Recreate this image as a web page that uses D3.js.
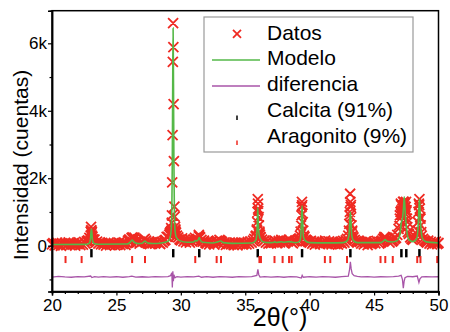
<!DOCTYPE html>
<html><head><meta charset="utf-8">
<script src="https://cdn.jsdelivr.net/npm/d3@7"></script>
<style>
html,body{margin:0;padding:0;background:#fff;}
svg{display:block;font-family:"Liberation Sans",Arial,sans-serif;}
</style></head><body>
<svg id="c" width="450" height="332"></svg>
<script>
// ---- data ----
const tth0 = 20, tthStep = 0.1;
const obsCounts = [
 40,75,10,55,90,25,60,-5,70,35,
 85,20,50,100,15,65,30,80,0,55,
 45,95,20,70,35,110,60,130,160,230,
 420,300,150,180,90,120,60,100,40,85,
 30,70,5,55,95,20,65,40,80,10,
 60,35,90,15,70,50,100,25,75,150,
 190,130,220,170,240,120,90,140,60,100,
 110,170,200,150,80,120,45,95,70,110,
 60,100,130,80,50,115,90,140,170,260,
 260,330,410,680,6600,1160,420,300,250,190,
 160,220,130,190,100,170,140,90,150,120,
 180,230,160,200,280,250,170,120,150,90,
 60,110,40,95,130,70,30,120,150,90,
 170,140,110,60,100,25,85,50,95,40,
 70,20,90,55,10,80,45,100,30,65,
 85,40,110,60,130,90,150,200,280,450,
 1100,380,250,180,130,160,90,120,60,100,
 70,130,90,150,120,80,140,100,170,130,
 110,80,150,120,180,140,100,70,120,160,
 130,180,220,420,1300,450,260,180,150,110,
 90,140,60,110,35,100,75,130,45,90,
 120,70,150,100,60,130,85,40,110,70,
 50,100,30,85,120,65,140,90,160,200,
 300,900,1200,450,250,170,130,90,150,110,
 60,100,40,90,130,20,75,110,50,85,
 120,70,140,100,60,110,150,200,230,250,
 180,130,90,150,120,160,200,230,320,500,
 900,1200,1100,1300,1150,1000,700,350,250,200,
 170,220,260,350,700,1200,800,300,200,160,
 130,90,150,60,110,40,95,70,120,50,
 80];
const obsPeakPts = [
 [22.96,210],[23.0,300],[23.03,560],[23.05,460],[23.07,375],[23.1,420],[23.14,260],[23.2,190],
 [26.18,230],[26.25,250],
 [29.15,380],[29.22,350],[29.25,520],[29.28,450],[29.31,900],[29.33,1880],[29.36,3280],[29.38,5450],
 [29.42,5890],[29.44,4200],[29.46,2510],[29.52,860],[29.55,560],[29.58,480],[29.62,380],
 [31.4,320],[31.45,270],
 [35.85,300],[35.9,480],[35.93,700],[35.95,1000],[35.97,1380],[35.99,1250],[36.02,1050],[36.04,850],
 [36.06,600],[36.1,420],[36.14,330],[36.18,260],
 [39.25,300],[39.33,600],[39.36,900],[39.38,1150],[39.42,1200],[39.44,950],[39.46,700],[39.55,300],
 [43.05,450],[43.08,650],[43.12,1000],[43.14,1540],[43.16,1300],[43.18,1150],[43.22,850],[43.25,600],
 [43.28,400],[43.33,300],
 [45.8,260],[45.86,230],
 [46.95,600],[47.0,800],[47.05,1000],[47.08,1250],[47.12,1050],[47.15,1200],[47.18,900],[47.22,1150],
 [47.25,1300],[47.28,1000],[47.32,1200],[47.35,1100],[47.38,1250],[47.42,950],[47.45,1150],[47.48,1300],
 [47.52,1050],[47.55,800],[47.58,550],[47.62,400],
 [48.38,450],[48.42,700],[48.45,1000],[48.48,1250],[48.52,1380],[48.55,1100],[48.58,850],[48.62,600],[48.66,400]
];
const modelPts = [
 [20,35],[22.7,40],[22.85,60],[22.95,120],[23.0,250],[23.03,420],[23.06,490],[23.09,420],[23.12,250],
 [23.17,120],[23.3,60],[23.6,45],[25.8,50],[26.0,80],[26.15,140],[26.22,170],[26.3,140],[26.45,85],
 [26.7,60],[27.0,70],[27.12,110],[27.22,140],[27.3,115],[27.45,75],[27.8,65],[28.5,80],[29.0,130],
 [29.15,220],[29.25,450],[29.3,1000],[29.34,2600],[29.37,4800],[29.40,6450],[29.43,4800],[29.46,2600],
 [29.5,1000],[29.55,450],[29.65,250],[29.9,150],[30.5,100],[31.0,110],[31.12,150],[31.25,140],
 [31.38,200],[31.43,240],[31.5,170],[31.7,100],[32.5,80],[32.75,100],[33.1,140],[33.3,90],[34,70],
 [35.5,80],[35.8,150],[35.9,350],[35.94,700],[35.97,1120],[36.0,800],[36.05,420],[36.12,250],
 [36.2,190],[36.35,120],[36.8,90],[37.2,95],[37.28,120],[37.4,95],[37.85,115],[37.95,100],[38.4,120],
 [38.6,110],[38.9,90],[39.2,120],[39.3,250],[39.36,700],[39.41,1180],[39.46,700],[39.52,260],
 [39.65,150],[40,90],[41.2,85],[41.6,85],[42.6,90],[42.9,140],[43.05,300],[43.11,700],[43.16,1000],
 [43.21,700],[43.27,300],[43.4,150],[43.7,90],[45.5,90],[45.7,130],[45.86,180],[46.0,130],[46.4,110],
 [46.8,150],[47.0,320],[47.12,700],[47.2,800],[47.28,1100],[47.34,1450],[47.40,1100],[47.47,700],
 [47.55,400],[47.7,180],[48.0,120],[48.3,200],[48.42,600],[48.48,1100],[48.52,1380],[48.56,1100],
 [48.62,600],[48.75,220],[49.0,120],[50,80]
];
const diffPts = [
 [20,-930],[20.5,-910],[21,-925],[21.5,-935],[22,-915],[22.5,-925],[23.0,-900],[23.1,-945],[23.3,-920],
 [23.6,-930],[24,-915],[24.5,-930],[25,-920],[25.5,-935],[26,-915],[26.2,-900],[26.5,-930],[27,-920],
 [27.5,-930],[28,-915],[28.5,-925],[29.0,-920],[29.2,-890],[29.3,-800],[29.34,-1240],[29.38,-760],
 [29.42,-1050],[29.46,-860],[29.55,-950],[29.7,-915],[30,-930],[30.5,-915],[31,-925],[31.4,-905],
 [31.6,-935],[32,-920],[32.5,-935],[33,-915],[33.5,-925],[34,-935],[34.5,-915],[35,-925],[35.5,-920],
 [35.9,-880],[35.98,-700],[36.05,-860],[36.15,-930],[36.5,-915],[37,-930],[37.5,-920],[38,-935],
 [38.5,-915],[39,-925],[39.35,-960],[39.42,-880],[39.5,-935],[40,-920],[40.5,-930],[41,-915],
 [41.5,-925],[42,-935],[42.5,-915],[43.0,-900],[43.1,-700],[43.16,-480],[43.22,-680],[43.3,-830],
 [43.45,-890],[43.7,-910],[44,-925],[44.5,-915],[45,-930],[45.5,-920],[46,-925],[46.5,-915],
 [46.9,-900],[47.1,-880],[47.2,-1000],[47.27,-1260],[47.33,-1060],[47.4,-950],[47.6,-910],[48,-920],
 [48.35,-900],[48.48,-1090],[48.56,-980],[48.7,-925],[49,-915],[49.5,-925],[50,-920]
];
const calcitePos = [23.06,29.41,31.43,35.97,39.41,43.16,47.12,47.5,48.52];
const aragonitePos = [21.05,22.3,26.22,27.22,31.12,32.78,33.12,36.1,36.22,37.27,37.9,38.4,38.6,
 41.18,41.6,42.9,45.5,45.87,46.45,48.35,48.6,49.9];
const xTicks = [20,25,30,35,40,45,50];
const xMinor = d3.range(20,51,1);
const yTicks = [0,2000,4000,6000];
const yTickLabels = ["0","2k","4k","6k"];
const yMinor = [-1000,1000,3000,5000];
const legendLabels = ["Datos","Modelo","diferencia","Calcita (91%)","Aragonito (9%)"];

// ---- styling ----
const RED="#ef2a22", GREEN="#55b848", PURPLE="#a855a8";
const L=52,R=438.5,T=10.7,B=291.5;
const x=d3.scaleLinear().domain([20,50]).range([L,R]);
const y=d3.scaleLinear().domain([-1358,6967]).range([B,T]);
const svg=d3.select("#c");

// observed X markers
const obs=obsCounts.map((v,i)=>[tth0+i*tthStep,v]).concat(obsPeakPts);
const s=5;
svg.append("path")
 .attr("d",obs.map(d=>{const cx=x(d[0]),cy=y(d[1]);return `M${cx-s},${cy-s}L${cx+s},${cy+s}M${cx-s},${cy+s}L${cx+s},${cy-s}`;}).join(""))
 .attr("stroke",RED).attr("stroke-width",1.8).attr("fill","none");

// model
svg.append("path").datum(modelPts)
 .attr("d",d3.line().x(d=>x(d[0])).y(d=>y(d[1])).curve(d3.curveMonotoneX))
 .attr("stroke",GREEN).attr("stroke-width",1.6).attr("fill","none");

// difference
svg.append("path").datum(diffPts)
 .attr("d",d3.line().x(d=>x(d[0])).y(d=>y(d[1])))
 .attr("stroke",PURPLE).attr("stroke-width",1.3).attr("fill","none");

// phase ticks
svg.append("g").selectAll("line").data(calcitePos).join("line")
 .attr("x1",d=>x(d)).attr("x2",d=>x(d)).attr("y1",y(-100)).attr("y2",y(-345))
 .attr("stroke","#000").attr("stroke-width",2.5);
svg.append("g").selectAll("line").data(aragonitePos).join("line")
 .attr("x1",d=>x(d)).attr("x2",d=>x(d)).attr("y1",y(-305)).attr("y2",y(-515))
 .attr("stroke",RED).attr("stroke-width",2);

// frame
svg.append("rect").attr("x",L).attr("y",T).attr("width",R-L).attr("height",B-T)
 .attr("fill","none").attr("stroke","#000").attr("stroke-width",1.5);

// axes
svg.append("g").attr("transform",`translate(0,${B})`)
 .call(d3.axisBottom(x).tickValues(xTicks).tickSize(4).tickPadding(3.5).tickFormat(d3.format("d")));
svg.append("g").attr("transform",`translate(0,${B})`)
 .call(d3.axisBottom(x).tickValues(xMinor.filter(v=>v%5)).tickSize(2.5).tickFormat(""));
svg.append("g").attr("transform",`translate(${L},0)`)
 .call(d3.axisLeft(y).tickValues(yTicks).tickSize(4).tickPadding(1).tickFormat((d,i)=>yTickLabels[i]));
svg.append("g").attr("transform",`translate(${L},0)`)
 .call(d3.axisLeft(y).tickValues(yMinor).tickSize(2.5).tickFormat(""));
svg.selectAll(".domain").attr("stroke","#000").attr("stroke-width",1.5);
svg.selectAll(".tick line").attr("stroke","#000").attr("stroke-width",1.2);
svg.selectAll(".tick text").attr("font-size",17).attr("fill","#000")
 .attr("font-family","Liberation Sans, Arial, sans-serif");

// axis titles
svg.append("text").attr("x",280).attr("y",326).attr("text-anchor","middle")
 .attr("font-size",25).text("2θ(°)");
svg.append("text").attr("transform","translate(27.5,165) rotate(-90)").attr("text-anchor","middle")
 .attr("font-size",21).text("Intensidad (cuentas)");

// legend
const lg=svg.append("g");
lg.append("rect").attr("x",204).attr("y",17).attr("width",209).attr("height",135)
 .attr("fill","#fff").attr("stroke","#9a9a9a").attr("stroke-width",1.2);
const ly=i=>39.5+25.9*i;
legendLabels.forEach((t,i)=>{
 lg.append("text").attr("x",267).attr("y",ly(i)).attr("font-size",21).text(t);
});
const mx=237, ms=4;
lg.append("path").attr("d",`M${mx-ms},${33.8-ms}L${mx+ms},${33.8+ms}M${mx-ms},${33.8+ms}L${mx+ms},${33.8-ms}`)
 .attr("stroke",RED).attr("stroke-width",1.8);
lg.append("line").attr("x1",212).attr("x2",260).attr("y1",60).attr("y2",60).attr("stroke",GREEN).attr("stroke-width",1.6);
lg.append("line").attr("x1",212).attr("x2",260).attr("y1",86).attr("y2",86).attr("stroke",PURPLE).attr("stroke-width",1.6);
lg.append("line").attr("x1",mx).attr("x2",mx).attr("y1",115.5).attr("y2",120).attr("stroke","#000").attr("stroke-width",1.5);
lg.append("line").attr("x1",mx).attr("x2",mx).attr("y1",140.5).attr("y2",145).attr("stroke",RED).attr("stroke-width",1.5);
</script></body></html>
